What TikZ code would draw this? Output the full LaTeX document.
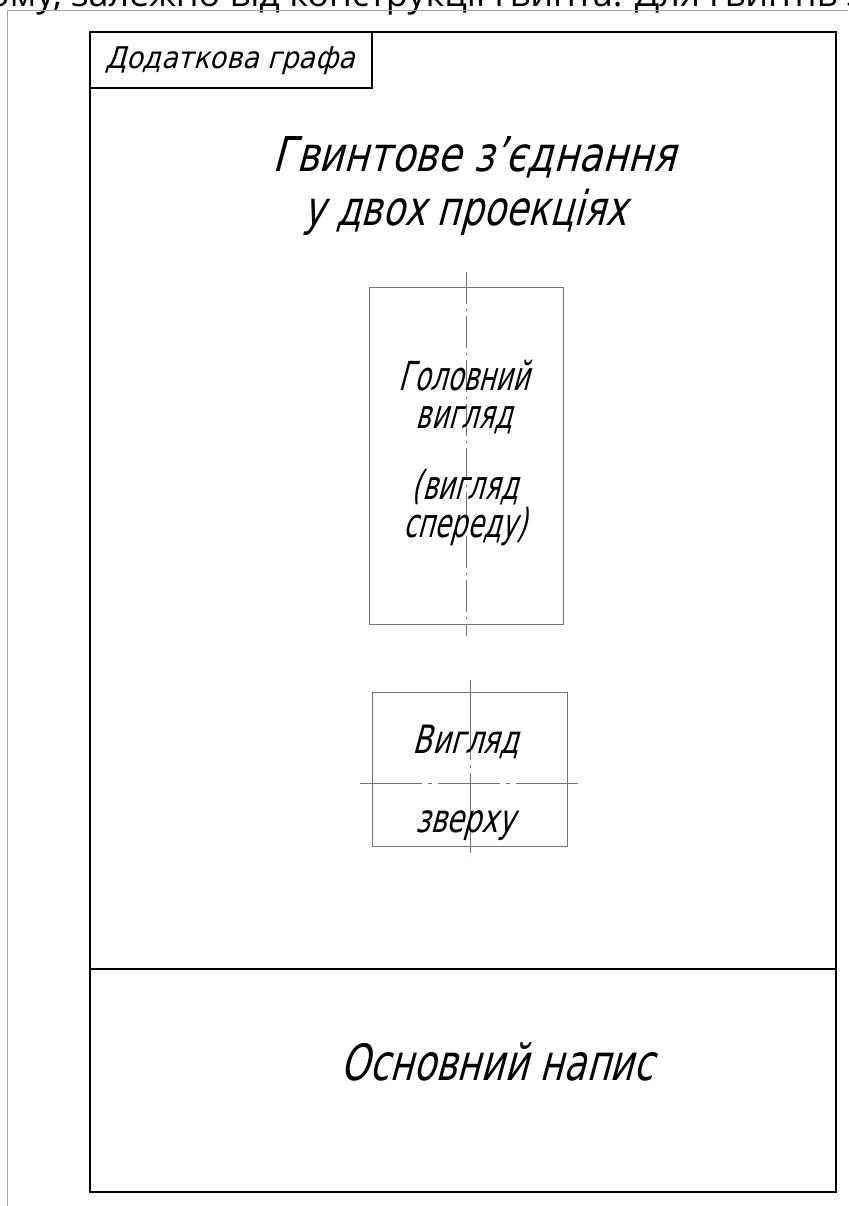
\documentclass[tikz,border=0pt]{standalone}
\usepackage{fontspec}
\newfontfamily\bodyfont{Open Sans}
\newcommand{\gst}[3]{\fontspec{DejaVu Sans}[FakeSlant=0.27,FakeStretch=#2]\fontsize{#1}{#3}\selectfont}
\begin{document}
\begin{tikzpicture}[x=1pt,y=-1pt,
  frame/.style={draw=black, line width=2.4pt, inner sep=0pt, outer sep=0pt, anchor=north west},
  viewbox/.style={draw=black!55, line width=0.9pt, inner sep=0pt, outer sep=0pt, anchor=north west},
  axis/.style={draw=black!55, line width=0.9pt},
  lbl/.style 2 args={font=\gst{#1}{#2}{#1}, inner sep=0pt, text=black},
  lbltwo/.style 2 args={font=\gst{#1}{#2}{38}, align=center, inner sep=0pt, text=black}
]
\useasboundingbox (0,0) rectangle (848,1206);
% cut-off line of text above the sheet
\begin{scope}
\clip (0,0) rectangle (848,1206);
\node[anchor=base west, font=\bodyfont\fontsize{36}{40}\selectfont, inner sep=0pt] (cut) at (-12,7) {ому, залежно від конструкції гвинта. Для гвинтів з};
\end{scope}
% sheet edge
\coordinate (sheetTR) at (848,11);
\coordinate (sheetTL) at (7,11);
\coordinate (sheetBL) at (7,1206);
\draw[black!35, line width=1pt] (sheetTR) -- (sheetTL) -- (sheetBL);
% drawing frame
\node[frame, minimum width=746pt, minimum height=1160pt] (frm) at (90,32) {};
\node[frame, minimum width=282pt, minimum height=56pt] (extra) at (90,32) {};
\node[lbl={30}{0.9}] (extraT) at (230,61) {Додаткова графа};
% title block line
\coordinate (tbL) at (90,969);
\coordinate (tbR) at (836,969);
\draw[black, line width=2.4pt] (tbL) -- (tbR);
% title
\node[lbl={48}{0.8}] (t1) at (474,157) {Гвинтове з’єднання};
\node[lbl={48}{0.75}] (t2) at (465,212) {у двох проекціях};
% front view
\node[viewbox, minimum width=194pt, minimum height=337pt] (front) at (369,287) {};
\coordinate (fA) at (466,272);
\coordinate (fB) at (466,636);
\draw[axis, dash pattern=on 32pt off 5pt on 2pt off 5pt] (fA) -- (fB);
\node[lbltwo={40}{0.65}] (f1) at (464,397) {Головний\\вигляд};
\node[lbltwo={40}{0.65}] (f2) at (465,507) {(вигляд\\спереду)};
% top view
\node[viewbox, minimum width=195pt, minimum height=154pt] (top) at (372,692) {};
\coordinate (vA) at (470,680);
\coordinate (vB) at (470,858);
\coordinate (hA) at (360,783);
\coordinate (hB) at (578,783);
\draw[axis, dash pattern=on 80pt off 5pt on 3pt off 5pt] (vA) -- (vB);
\draw[axis, dash pattern=on 62pt off 6pt on 4pt off 6pt] (hA) -- (hB);
\node[lbl={39}{0.72}] (v1) at (466,742) {Вигляд};
\node[lbl={39}{0.72}] (v2) at (465,826) {зверху};
% main inscription
\node[lbl={50}{0.73}] (main) at (497,1062) {Основний напис};
\end{tikzpicture}
\end{document}
